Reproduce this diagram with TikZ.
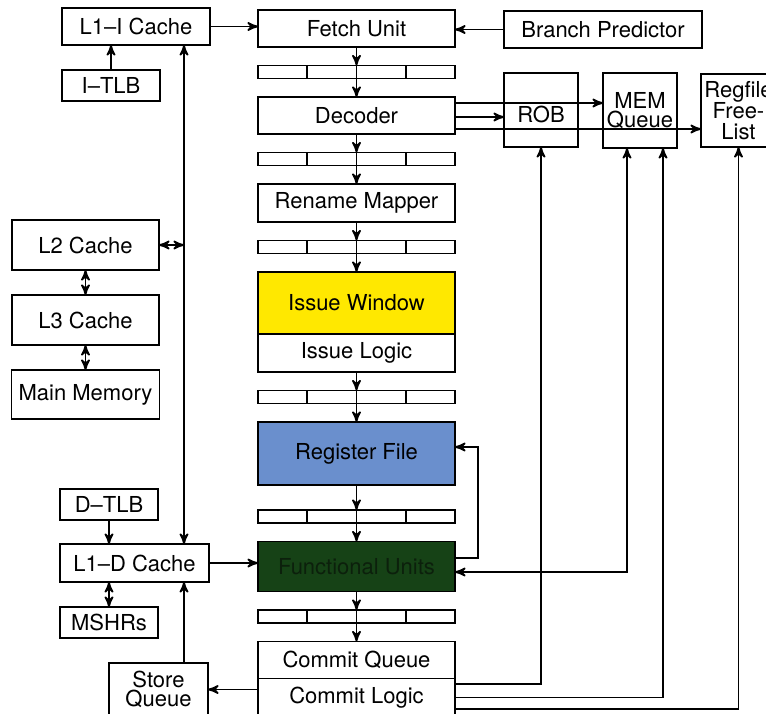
\documentclass[tikz,border=0pt]{standalone}
\usepackage{fontspec}
\setmainfont{TeX Gyre Heros}
\usetikzlibrary{arrows,positioning}

\definecolor{issueyellow}{RGB}{255,232,0}
\definecolor{regblue}{RGB}{106,143,205}
\definecolor{fugreen}{RGB}{22,66,22}
\definecolor{futext}{RGB}{12,32,12}

\begin{document}
\begin{tikzpicture}[->,>=stealth',x=0.5pt,y=-0.5pt,node distance=9.25pt,
                    line width=0.9pt]

  \tikzstyle{unit}=[rectangle,draw,inner sep=0pt,outer sep=0pt,align=center,
                    font=\fontsize{11}{10}\selectfont]
  \tikzstyle{stage}=[unit,minimum width=98.5pt,minimum height=18.5pt]
  \tikzstyle{latch}=[rectangle,draw,inner sep=0pt,outer sep=0pt,minimum width=98.5pt,
                     minimum height=6.5pt,
                     path picture={\draw[-]
                       ([xshift=24.6pt]path picture bounding box.north west) --
                       ([xshift=24.6pt]path picture bounding box.south west)
                       ([xshift=-24.6pt]path picture bounding box.north east) --
                       ([xshift=-24.6pt]path picture bounding box.south east);}]

  \useasboundingbox (0,0) rectangle (766,713);

  % pipeline
  \node[stage]         (FETCH) at (356.5,28.5) {Fetch Unit};
  \node[latch]         (LA) [below=of FETCH]   {};
  \node[stage]         (DEC) [below=of LA]     {Decoder};
  \node[latch]         (LB) [below=of DEC]     {};
  \node[stage,minimum height=19pt] (REN) [below=of LB] {Rename Mapper};
  \node[latch]         (LC) [below=of REN]     {};
  \node[stage,fill=issueyellow,minimum height=31pt] (IW) [below=of LC] {Issue Window};
  \node[stage,minimum height=19pt] (IL) [below=0pt of IW] {Issue Logic};
  \node[latch]         (LD) [below=of IL]      {};
  \node[stage,fill=regblue,minimum height=31.5pt] (RF) [below=of LD] {Register File};
  \node[latch]         (LE) [below=12.5pt of RF] {};
  \node[stage,fill=fugreen,text=futext,minimum height=25pt] (FU) [below=of LE] {Functional Units};
  \node[latch]         (LF) [below=of FU]      {};
  \node[stage]         (CQ) [below=of LF]      {Commit Queue};
  \node[stage,minimum height=19pt] (CL) [below=0pt of CQ] {Commit Logic};

  % front end and queues
  \node[unit,minimum width=74pt,minimum height=18.5pt]   (L1I) at (136,26.5)  {L1--I Cache};
  \node[unit,minimum width=49pt,minimum height=15.5pt]   (ITLB) at (111,85.5) {I--TLB};
  \node[unit,minimum width=99pt,minimum height=18.5pt]   (BP) at (603,29.5)   {Branch Predictor};
  \node[unit,minimum width=37pt,minimum height=37pt,text height=12.5pt] (ROB) at (541,110) {ROB};
  \node[unit,minimum width=37pt,minimum height=37.5pt,
        font=\fontsize{11}{9.5}\selectfont]              (MEM) at (640,110.5) {MEM\\Queue};
  \node[unit,minimum width=37.5pt,minimum height=36.5pt,
        font=\fontsize{11}{10.5}\selectfont]             (RFL) at (738.5,110.5) {Regfile\\Free-\\List};

  % memory side
  \node[unit,minimum width=73.5pt,minimum height=25pt]   (L2) at (85.5,245)   {L2 Cache};
  \node[unit,minimum width=73.5pt,minimum height=25pt]   (L3) [below=12.5pt of L2] {L3 Cache};
  \node[unit,minimum width=74pt,minimum height=24.5pt]   (MM) [below=12.5pt of L3] {Main Memory};
  \node[unit,minimum width=49pt,minimum height=15.5pt]   (DTLB) at (109,504.5) {D--TLB};
  \node[unit,minimum width=74.5pt,minimum height=19pt]   (L1D) at (134.5,563) {L1--D Cache};
  \node[unit,minimum width=49pt,minimum height=15.5pt]   (MSHR) at (109,622.5) {MSHRs};
  \node[unit,minimum width=49.5pt,minimum height=26.5pt,
        font=\fontsize{11}{9.6}\selectfont]              (SQ) at (158.5,689.5) {Store\\Queue};
  \coordinate (BUS) at (184,0);

  \path
  (FETCH) edge (LA)   (LA.north) edge (DEC)
  (DEC)   edge (LB)   (LB.north) edge (REN)
  (REN)   edge (LC)   (LC.north) edge (IW)
  (IL)    edge (LD)   (LD.north) edge (RF)
  (RF)    edge (LE)   (LE.north) edge (FU)
  (FU)    edge (LF)   (LF.north) edge (CQ)
  ;
  \path[<->] (L2) edge (L3) (L3) edge (MM);

  \draw (L1I.east) -- (L1I.east -| FETCH.west);
  \draw (BP.west) -- (BP.west -| FETCH.east);
  \draw (ITLB.north) -- (ITLB.north |- L1I.south);
  \draw[<->] (L1I.south -| BUS) -- (L1D.north -| BUS);
  \draw[<->] (L2.east) -- (L2.east -| BUS);
  \draw (DTLB.south) -- (DTLB.south |- L1D.north);
  \draw[<->] (MSHR.north) -- (MSHR.north |- L1D.south);
  \draw (SQ.north -| BUS) -- (L1D.south -| BUS);
  \draw (L1D.east) -- (L1D.east -| FU.west);
  \draw (CL.west |- SQ.east) -- (SQ.east);

  % decoder fan-out
  \draw ([yshift=6.25pt]DEC.east) coordinate (D1) -- (D1 -| MEM.west);
  \draw ([yshift=-0.75pt]DEC.east) coordinate (D2) -- (D2 -| ROB.west);
  \draw ([yshift=-6.75pt]DEC.east) coordinate (D3) -- (D3 -| RFL.west);

  % commit and feedback
  \draw ([yshift=6.75pt]CL.east) -| (ROB.south);
  \draw (CL.east) -| ([xshift=11.5pt]MEM.south);
  \draw ([yshift=-5.75pt]CL.east) -| (RFL.south);
  \draw[<->] ([xshift=-6.5pt]MEM.south) |- ([yshift=-2.75pt]FU.east);
  \draw ([yshift=4.25pt]FU.east) -- ++(11.5pt,0) |- ([yshift=3.25pt]RF.east);
\end{tikzpicture}
\end{document}
